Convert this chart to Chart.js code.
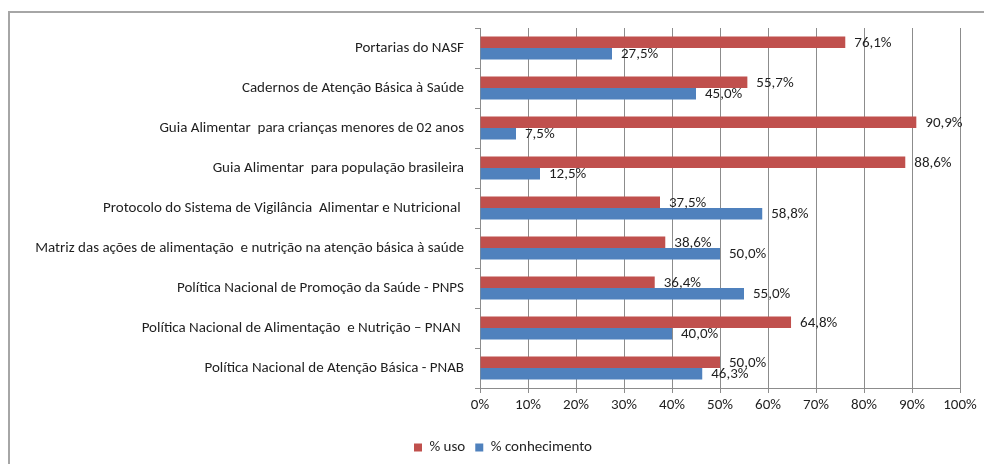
<!DOCTYPE html>
<html>
<head>
<meta charset="utf-8">
<script src="https://cdn.jsdelivr.net/npm/chart.js@4.4.1/dist/chart.umd.min.js"></script>
<style>
  body { margin: 0; background: #fff; }
  #wrap { position: relative; width: 984px; height: 464px; }
  #frame { position: absolute; left: 8px; top: 11px; width: 1000px; height: 500px;
           border-top: 2px solid #a6a6a6; border-left: 2px solid #a6a6a6; box-sizing: border-box; }
</style>
</head>
<body>
<div id="wrap">
  <div id="frame"></div>
  <canvas id="usoChart"></canvas>
</div>
<script>
/* Dados do gráfico */
const categorias = [
  'Portarias do NASF',
  'Cadernos de Atenção Básica à Saúde',
  'Guia Alimentar  para crianças menores de 02 anos',
  'Guia Alimentar  para população brasileira',
  'Protocolo do Sistema de Vigilância  Alimentar e Nutricional ',
  'Matriz das ações de alimentação  e nutrição na atenção básica à saúde',
  'Política Nacional de Promoção da Saúde - PNPS',
  'Política Nacional de Alimentação  e Nutrição – PNAN ',
  'Política Nacional de Atenção Básica - PNAB'
];
const usoValores = [76.1, 55.7, 90.9, 88.6, 37.5, 38.6, 36.4, 64.8, 50.0];
const conhecimentoValores = [27.5, 45.0, 7.5, 12.5, 58.8, 50.0, 55.0, 40.0, 46.3];
const xTicks = [0, 10, 20, 30, 40, 50, 60, 70, 80, 90, 100];

const fonte = 'Calibri, Carlito, Lato, sans-serif';
const corTexto = '#1f1f1f';

/* rótulos de valor ao lado das barras */
const rotulosPlugin = {
  id: 'rotulos',
  afterLayout(chart) {
    // legenda um pouco deslocada, como no original
    chart.legend.left += 23;
    chart.legend.right += 23;
    chart.legend.top += 2;
    chart.legend.bottom += 2;
  },
  afterDatasetsDraw(chart) {
    const c = chart.ctx;
    c.save();
    c.font = '15px ' + fonte;
    c.fillStyle = corTexto;
    c.textAlign = 'left';
    c.textBaseline = 'middle';
    chart.data.datasets.forEach((ds, i) => {
      const meta = chart.getDatasetMeta(i);
      meta.data.forEach((bar, j) => {
        const txt = ds.data[j].toFixed(1).replace('.', ',') + '%';
        c.fillText(txt, bar.x + 9, bar.y + 1);
      });
    });
    c.restore();
  }
};

const ctx = document.getElementById('usoChart').getContext('2d');
const usoChart = new Chart(ctx, {
  type: 'bar',
  data: {
    labels: categorias,
    datasets: [{
      label: '% uso',
      data: usoValores,
      backgroundColor: '#c0504d',
      borderWidth: 0,
      categoryPercentage: 0.57,
      barPercentage: 1
    }, {
      label: '% conhecimento',
      data: conhecimentoValores,
      backgroundColor: '#4f81bd',
      borderWidth: 0,
      categoryPercentage: 0.57,
      barPercentage: 1
    }]
  },
  options: {
    indexAxis: 'y',
    responsive: true,
    maintainAspectRatio: false,
    animation: false,
    layout: {
      padding: { top: 28, right: 24, left: 0, bottom: 1 }
    },
    plugins: {
      legend: {
        position: 'bottom',
        labels: {
          boxWidth: 8,
          boxHeight: 8,
          padding: 10,
          color: corTexto,
          font: { family: fonte, size: 15 }
        }
      },
      tooltip: { enabled: false }
    },
    scales: {
      x: {
        min: 0,
        max: 100,
        afterBuildTicks(scale) {
          scale.ticks = xTicks.map(v => ({ value: v }));
        },
        afterFit(scale) { scale.height = 40; },
        ticks: {
          color: corTexto,
          padding: 3,
          font: { family: fonte, size: 15 },
          callback: v => v + '%'
        },
        grid: {
          color: '#8c8c8c',
          lineWidth: 1,
          tickLength: 5
        },
        border: { color: '#8c8c8c' }
      },
      y: {
        afterFit(scale) { scale.width = 480; },
        ticks: {
          color: corTexto,
          padding: 11,
          font: { family: fonte, size: 15 }
        },
        grid: {
          offset: true,
          drawOnChartArea: false,
          tickLength: 5,
          color: '#8c8c8c'
        },
        border: { color: '#8c8c8c' }
      }
    }
  },
  plugins: [rotulosPlugin]
});
</script>
</body>
</html>
